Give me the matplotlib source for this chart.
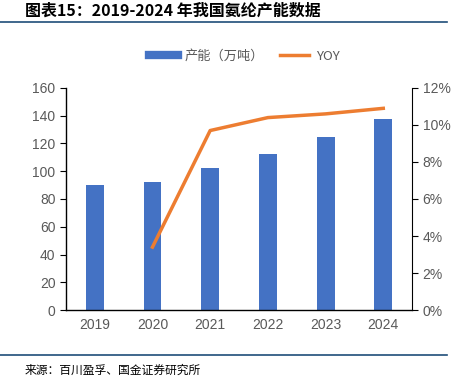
import matplotlib.pyplot as plt
from matplotlib.lines import Line2D

plt.rcParams['font.family'] = ['Liberation Sans', 'Noto Sans CJK SC', 'DejaVu Sans']

years = ['2019', '2020', '2021', '2022', '2023', '2024']
capacity = [90, 92, 102, 112.5, 124.5, 138]
yoy_years = ['2020', '2021', '2022', '2023', '2024']
yoy = [3.4, 9.7, 10.4, 10.6, 10.9]

bar_color = '#4472C4'
line_color = '#ED7D31'
tick_color = '#595959'
cjk = ['Noto Sans CJK SC', 'DejaVu Sans']

fig = plt.figure(figsize=(4.61, 3.76), dpi=100)
ax = fig.add_axes([0.143, 0.1755, 0.751, 0.5905])
x = list(range(len(years)))
ax.bar(x, capacity, width=0.31, color=bar_color, zorder=2)
ax.set_xlim(-0.5, len(years) - 0.5)
ax.set_ylim(0, 160)
ax.set_yticks(range(0, 161, 20))
ax.set_xticks(x)
ax.set_xticklabels(years)
ax.tick_params(axis='x', length=0, colors=tick_color, labelsize=10, pad=6)
ax.tick_params(axis='y', colors=tick_color, labelsize=10, direction='out', length=4)
for s in ['left', 'bottom']:
    ax.spines[s].set_color('black')
    ax.spines[s].set_linewidth(1)
ax.spines['top'].set_visible(False)
ax.spines['right'].set_visible(False)
ax.tick_params(axis='y', color='black')

ax2 = ax.twinx()
xi = [years.index(y) for y in yoy_years]
ax2.plot(xi, yoy, color=line_color, linewidth=2.5, zorder=3)
ax2.set_ylim(0, 12)
ax2.set_yticks(range(0, 13, 2))
ax2.set_yticklabels([f'{v}%' for v in range(0, 13, 2)])
ax2.tick_params(axis='y', colors=tick_color, labelsize=10, direction='out', length=4)
ax2.tick_params(axis='y', color='black')
ax2.spines['right'].set_color('black')
for s in ['top', 'left', 'bottom']:
    ax2.spines[s].set_visible(False)

handles = [Line2D([0], [0], color=bar_color, linewidth=6),
           Line2D([0], [0], color=line_color, linewidth=2.5)]
fig.legend(handles, ['产能（万吨）', 'YOY'], loc='center', bbox_to_anchor=(0.53, 0.851),
           ncol=2, frameon=False, prop={'family': cjk, 'size': 9.5}, labelcolor=tick_color,
           handlelength=2.2, handletextpad=0.5, columnspacing=1.2)

fig.text(0.055, 0.972, '图表15：2019-2024 年我国氨纶产能数据', fontsize=11.5, fontweight='bold',
         style='italic', va='center', ha='left', color='black', family=cjk)
fig.add_artist(Line2D([0.0, 0.97], [0.941, 0.941], color='#1F4E79', linewidth=1.2))
fig.add_artist(Line2D([0.0, 0.97], [0.056, 0.056], color='#1F4E79', linewidth=1.2))
fig.text(0.054, 0.016, '来源：百川盈孚、国金证券研究所', fontsize=8.5, va='center', ha='left',
         color='black', family=cjk)

fig.savefig('out.png', dpi=100)
